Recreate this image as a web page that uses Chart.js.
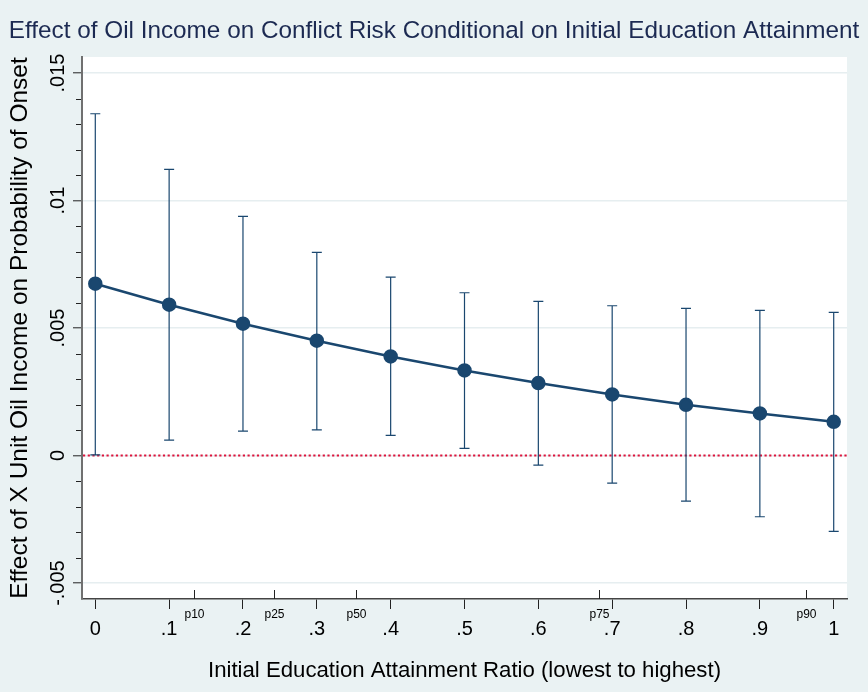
<!DOCTYPE html>
<html>
<head>
<meta charset="utf-8">
<script src="https://cdn.jsdelivr.net/npm/chart.js@4.4.1/dist/chart.umd.min.js"></script>
<style>
  html, body { margin: 0; padding: 0; background: #eaf2f3; }
  canvas { display: block; }
</style>
</head>
<body>
<canvas id="c" width="868" height="692"></canvas>
<script>
// Marginal effect of oil income by initial education attainment ratio
const educRatio = [0, 0.1, 0.2, 0.3, 0.4, 0.5, 0.6, 0.7, 0.8, 0.9, 1];
const effect    = [0.006737, 0.005914, 0.005169, 0.004502, 0.003886, 0.003337, 0.002843, 0.002396, 0.001992, 0.001651, 0.001325];
const ciUpper   = [0.013404, 0.011220, 0.009377, 0.007965, 0.007000, 0.006384, 0.006043, 0.005875, 0.005769, 0.005690, 0.005612];
const ciLower   = [0.000030, 0.000607, 0.000960, 0.001010, 0.000789, 0.000278, -0.000373, -0.001078, -0.001784, -0.002400, -0.002976];

const xTickValues = [0, 0.1, 0.2, 0.3, 0.4, 0.5, 0.6, 0.7, 0.8, 0.9, 1];
const xTickLabels = ['0', '.1', '.2', '.3', '.4', '.5', '.6', '.7', '.8', '.9', '1'];
const yTickValues = [-0.005, 0, 0.005, 0.01, 0.015];
const yTickLabels = ['-.005', '0', '.005', '.01', '.015'];
const yMinorStep  = 0.001;
const pctValues   = [0.1337, 0.2424, 0.3533, 0.682, 0.962];
const pctLabels   = ['p10', 'p25', 'p50', 'p75', 'p90'];

const FONT = "'Liberation Sans', Arial, sans-serif";
const NAVY = '#1a476f';
const BG = '#eaf2f3';

const decor = {
  id: 'decor',
  beforeDraw(chart) {
    const { ctx, chartArea: a } = chart;
    ctx.save();
    ctx.fillStyle = BG;
    ctx.fillRect(0, 0, chart.width, chart.height);
    ctx.fillStyle = '#ffffff';
    ctx.fillRect(a.left, a.top, a.right - a.left, a.bottom - a.top);
    ctx.restore();
  },
  beforeDatasetsDraw(chart) {
    const { ctx, chartArea: a, scales: { x, y } } = chart;
    ctx.save();
    // reference line at zero
    const y0 = y.getPixelForValue(0);
    ctx.strokeStyle = '#dc143c';
    ctx.lineWidth = 2;
    ctx.setLineDash([2.2, 2.5]);
    ctx.beginPath();
    ctx.moveTo(a.left + 1, y0);
    ctx.lineTo(a.right, y0);
    ctx.stroke();
    ctx.setLineDash([]);
    // confidence interval bars
    ctx.strokeStyle = NAVY;
    ctx.lineWidth = 1.2;
    for (let i = 0; i < educRatio.length; i++) {
      const px = x.getPixelForValue(educRatio[i]);
      const pu = y.getPixelForValue(ciUpper[i]);
      const pl = y.getPixelForValue(ciLower[i]);
      ctx.beginPath();
      ctx.moveTo(px, pu); ctx.lineTo(px, pl);
      ctx.moveTo(px - 5, pu); ctx.lineTo(px + 5, pu);
      ctx.moveTo(px - 5, pl); ctx.lineTo(px + 5, pl);
      ctx.stroke();
    }
    ctx.restore();
  },
  afterDraw(chart) {
    const { ctx, chartArea: a, scales: { x, y } } = chart;
    ctx.save();
    ctx.strokeStyle = '#222';
    ctx.lineWidth = 1;
    // minor ticks on the y axis
    for (let k = -5; k <= 15; k++) {
      if (k % 5 === 0) continue;
      const py = Math.round(y.getPixelForValue(k * yMinorStep)) + 0.5;
      ctx.beginPath();
      ctx.moveTo(a.left - 6, py);
      ctx.lineTo(a.left - 1, py);
      ctx.stroke();
    }
    // rotated y tick labels
    ctx.fillStyle = '#000';
    ctx.font = `20px ${FONT}`;
    ctx.textAlign = 'center';
    ctx.textBaseline = 'alphabetic';
    yTickValues.forEach((v, i) => {
      const py = y.getPixelForValue(v);
      ctx.save();
      ctx.translate(64, py);
      ctx.rotate(-Math.PI / 2);
      ctx.fillText(yTickLabels[i], 0, 0);
      ctx.restore();
    });
    // percentile marks on the x axis
    ctx.font = `12px ${FONT}`;
    pctValues.forEach((v, i) => {
      const px = Math.round(x.getPixelForValue(v)) + 0.5;
      ctx.beginPath();
      ctx.moveTo(px, a.bottom);
      ctx.lineTo(px, a.bottom - 9);
      ctx.stroke();
      ctx.fillText(pctLabels[i], px, a.bottom + 19);
    });
    ctx.restore();
  }
};

new Chart(document.getElementById('c'), {
  type: 'line',
  data: {
    datasets: [{
      data: educRatio.map((v, i) => ({ x: v, y: effect[i] })),
      borderColor: NAVY,
      backgroundColor: NAVY,
      borderWidth: 2.5,
      pointRadius: 6,
      pointHoverRadius: 6,
      pointBackgroundColor: NAVY,
      pointBorderColor: NAVY,
      tension: 0
    }]
  },
  options: {
    responsive: false,
    animation: false,
    devicePixelRatio: 1,
    layout: { padding: 0 },
    plugins: {
      legend: { display: false },
      tooltip: { enabled: false },
      title: {
        display: true,
        text: 'Effect of Oil Income on Conflict Risk Conditional on Initial Education Attainment',
        color: '#1c2a52',
        font: { family: FONT, size: 24.3, weight: 'normal', lineHeight: 1.2 },
        padding: { top: 17.2, bottom: 10.6 }
      }
    },
    scales: {
      x: {
        type: 'linear',
        min: -0.018,
        max: 1.018,
        afterFit(s) { s.height = 93; },
        afterBuildTicks(s) { s.ticks = xTickValues.map(v => ({ value: v })); },
        ticks: {
          color: '#000',
          font: { family: FONT, size: 20 },
          padding: 8,
          maxRotation: 0,
          autoSkip: false,
          callback: (v) => xTickLabels[xTickValues.indexOf(v)] ?? ''
        },
        grid: { display: true, drawOnChartArea: false, drawTicks: true, tickLength: 10, tickColor: '#222', tickWidth: 1 },
        border: { display: true, color: '#444', width: 1.5 },
        title: {
          display: true,
          text: 'Initial Education Attainment Ratio (lowest to highest)',
          color: '#000',
          font: { family: FONT, size: 22.2 },
          padding: { top: 0, bottom: 7.3 }
        }
      },
      y: {
        type: 'linear',
        min: -0.005625,
        max: 0.01563,
        afterFit(s) { s.width = 82; },
        afterBuildTicks(s) { s.ticks = yTickValues.map(v => ({ value: v })); },
        ticks: { display: false },
        grid: { display: true, color: '#e6eef0', lineWidth: 1.6, drawTicks: true, tickLength: 9, tickColor: '#222', tickWidth: 1 },
        border: { display: true, color: '#707070', width: 2 },
        title: {
          display: true,
          text: 'Effect of X Unit Oil Income on Probability of Onset',
          color: '#000',
          font: { family: FONT, size: 24.5 },
          padding: { top: 5.8, bottom: 0 }
        }
      },
      // empty right-hand margin strip
      yRight: {
        type: 'linear',
        position: 'right',
        display: true,
        afterFit(s) { s.width = 21; },
        ticks: { display: false },
        grid: { display: false, drawTicks: false },
        border: { display: false }
      }
    }
  },
  plugins: [decor]
});
</script>
</body>
</html>
